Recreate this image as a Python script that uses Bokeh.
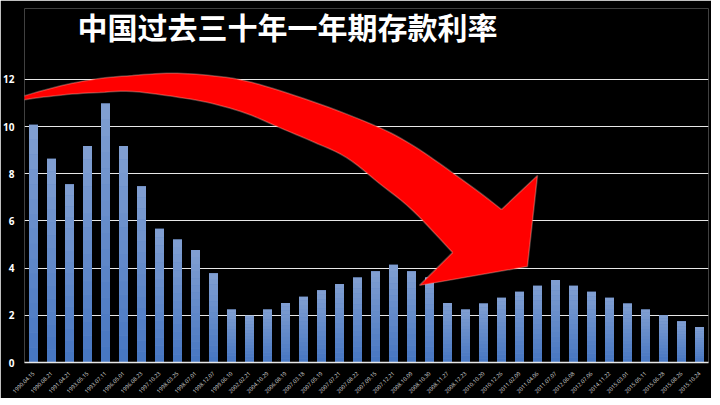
import numpy as np
from bokeh.plotting import figure
from bokeh.models import FactorRange, Range1d, FixedTicker, PolyAnnotation, Label
from bokeh.embed import file_html
from bokeh.resources import INLINE

# ---- data ----
dates = ["1990.04.15", "1990.08.21", "1991.04.21", "1993.05.15", "1993.07.11",
         "1996.05.01", "1996.08.23", "1997.10.23", "1998.03.25", "1998.07.01",
         "1998.12.07", "1999.06.10", "2002.02.21", "2004.10.29", "2006.08.19",
         "2007.03.18", "2007.05.19", "2007.07.21", "2007.08.22", "2007.09.15",
         "2007.12.21", "2008.10.09", "2008.10.30", "2008.11.27", "2008.12.23",
         "2010.10.20", "2010.12.26", "2011.02.09", "2011.04.06", "2011.07.07",
         "2012.06.08", "2012.07.06", "2014.11.22", "2015.03.01", "2015.05.11",
         "2015.06.28", "2015.08.26", "2015.10.24"]
rates = [10.08, 8.64, 7.56, 9.18, 10.98,
         9.18, 7.47, 5.67, 5.22, 4.77,
         3.78, 2.25, 1.98, 2.25, 2.52,
         2.79, 3.06, 3.33, 3.60, 3.87,
         4.14, 3.87, 3.60, 2.52, 2.25,
         2.50, 2.75, 3.00, 3.25, 3.50,
         3.25, 3.00, 2.75, 2.50, 2.25,
         2.00, 1.75, 1.50]
y_ticks = [0, 2, 4, 6, 8, 10, 12]
title_text = "中国过去三十年一年期存款利率"

# decorative arrow (x in category slots, y in rate units)
arrow_upper_x = [-1.39, 0.44, 2.33, 4.17, 6.0, 7.89, 9.72, 11.94, 14.17, 16.94, 19.72, 21.39, 23.06, 25.28, 26.5]
arrow_upper_y = [10.98, 11.41, 11.79, 12.04, 12.17, 12.26, 12.21, 12.0, 11.53, 10.81, 9.96, 9.29, 8.44, 7.21, 6.49]
arrow_head_x = [28.5, 27.94, 21.94]
arrow_head_y = [7.93, 4.07, 3.27]
arrow_lower_x = [23.78, 21.56, 19.72, 17.89, 16.0, 14.17, 12.33, 10.44, 8.61, 6.0, 4.17, 2.33, 0.44, -1.39]
arrow_lower_y = [4.66, 6.45, 7.59, 8.69, 9.37, 9.96, 10.56, 10.98, 11.24, 11.49, 11.45, 11.36, 11.19, 10.98]


def smooth(xs, ys, k=6):
    # Catmull-Rom smoothing of a decorative outline
    pts = np.column_stack([xs, ys]).astype(float)
    ext = np.vstack([pts[0], pts, pts[-1]])
    out = []
    for i in range(1, len(ext) - 2):
        p0, p1, p2, p3 = ext[i - 1], ext[i], ext[i + 1], ext[i + 2]
        for t in np.linspace(0, 1, k, endpoint=False):
            t2, t3 = t * t, t * t * t
            out.append(0.5 * ((2 * p1) + (-p0 + p2) * t + (2 * p0 - 5 * p1 + 4 * p2 - p3) * t2
                              + (-p0 + 3 * p1 - 3 * p2 + p3) * t3))
    out.append(pts[-1])
    out = np.array(out)
    return list(out[:, 0]), list(out[:, 1])


ux, uy = smooth(arrow_upper_x, arrow_upper_y)
lx, ly = smooth(arrow_lower_x, arrow_lower_y)
poly_x = ux + arrow_head_x + lx
poly_y = uy + arrow_head_y + ly

p = figure(frame_width=684, frame_height=354, title=None,
           x_range=FactorRange(factors=dates),
           y_range=Range1d(0, 15.01),
           output_backend="svg", toolbar_location=None,
           min_border_left=17, min_border_right=3,
           min_border_top=8, min_border_bottom=35,
           background_fill_color="black", border_fill_color="black",
           outline_line_color=None)

# bars with vertical gradient (dark bottom -> light top)
c_bot = np.array([70, 118, 194])
c_top = np.array([130, 160, 210])
p.vbar(x=dates, top=rates, width=0.5, fill_color="#6089c8", line_color=None)
n = 16
for j in range(n):
    t = (j + 0.5) / n
    c = (c_bot * (1 - t) + c_top * t).astype(int)
    col = "#%02x%02x%02x" % tuple(c)
    p.vbar(x=dates, bottom=[r * j / n for r in rates], top=[r * (j + 1) / n for r in rates],
           width=0.5, fill_color=col, line_color=None)

# grid / axes
p.xgrid.grid_line_color = None
p.ygrid.ticker = FixedTicker(ticks=y_ticks)
p.ygrid.grid_line_color = "#e8e8e8"
p.ygrid.grid_line_width = 1

p.yaxis.ticker = FixedTicker(ticks=y_ticks)
p.yaxis.axis_line_color = None
p.yaxis.major_tick_line_color = None
p.yaxis.minor_tick_line_color = None
p.yaxis.major_label_text_color = "white"
p.yaxis.major_label_text_font = "Open Sans"
p.yaxis.major_label_text_font_style = "bold"
p.yaxis.major_label_text_font_size = "10px"
p.yaxis.major_label_standoff = 4

p.xaxis.axis_line_color = "#e8e8e8"
p.xaxis.axis_line_width = 1.5
p.xaxis.major_tick_line_color = None
p.xaxis.major_label_orientation = np.pi / 4
p.xaxis.major_label_text_color = "#dadada"
p.xaxis.major_label_text_font = "Open Sans"
p.xaxis.major_label_text_font_size = "5.5px"
p.xaxis.major_label_standoff = 4

# chart title (sits in the empty area above the 12 gridline)
title = Label(x=2.94, y=14.25, text=title_text, text_font="Noto Sans CJK SC",
              text_font_size="30px", text_font_style="bold", text_color="white",
              text_align="left", text_baseline="middle")
p.add_layout(title)

# red arrow overlay
arrow = PolyAnnotation(xs=poly_x, ys=poly_y, fill_color="#ff0000", fill_alpha=1.0,
                       line_color="#ffd8c8", line_width=1.5)
p.add_layout(arrow)

open("out.html", "w").write(file_html(p, INLINE))
